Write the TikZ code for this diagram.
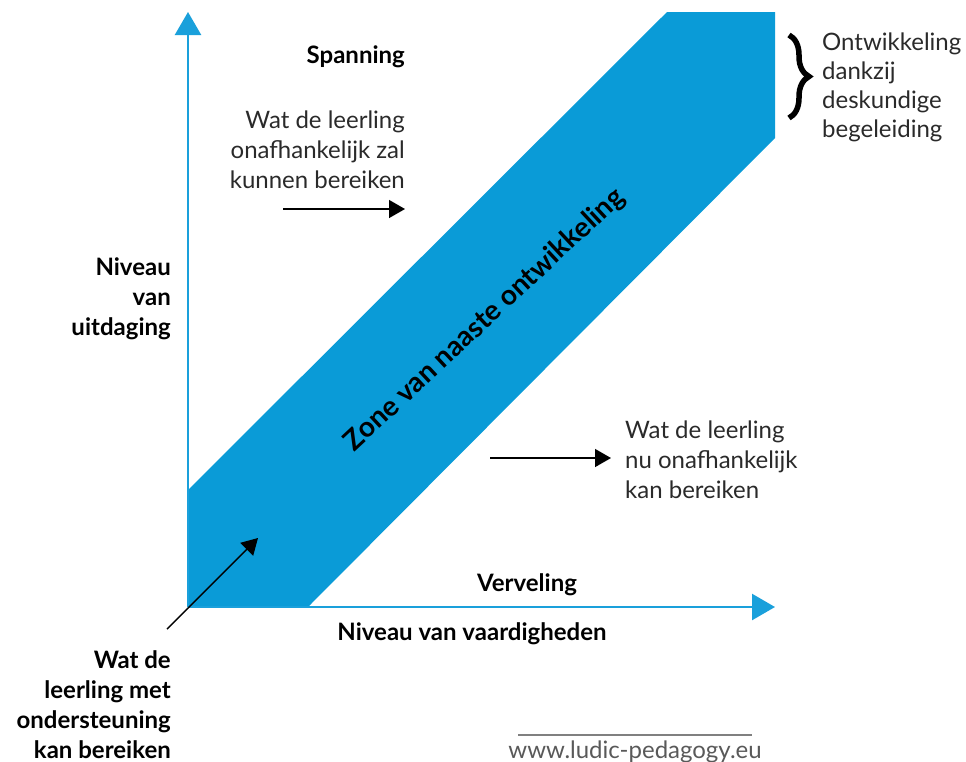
\documentclass[tikz,border=0pt]{standalone}
\usepackage{fontspec}
\setmainfont{Lato}
\usetikzlibrary{arrows.meta,decorations.pathreplacing}
\definecolor{zoneblue}{HTML}{0A9BD7}
\definecolor{axisblue}{HTML}{1AA0DB}
\definecolor{txtgray}{HTML}{2A2A2A}
\tikzset{
	axis/.style={draw=axisblue, line width=2.5pt, -{Triangle[length=23pt,width=26pt]}},
	pointer/.style={draw=black, line width=1.4pt, -{Triangle[length=16pt,width=18pt]}},
	boldlbl/.style={font=\fontsize{24}{30}\selectfont\bfseries, text=black, inner sep=0pt},
	thinlbl/.style={font=\fontsize{24}{30}\selectfont, text=txtgray, inner sep=0pt},
}
\begin{document}
\begin{tikzpicture}[x=1pt,y=-1pt]
			\useasboundingbox (0,0) rectangle (966,761);
			% zone band
			\fill[zoneblue](188,607) -- (188,490) -- (667,12) -- (775,12) -- (775,138) -- (308,607) -- cycle;
			\node[boldlbl, font=\fontsize{28}{30}\selectfont\bfseries, rotate=43] (zone) at(485,320){Zone van naaste ontwikkeling};

			% axes
			\coordinate (origin) at(188,607);
			\coordinate (ytop) at(188,12);
			\coordinate (xend) at(775,607);
			\draw[axis](origin) to (ytop);
			\draw[axis](origin) to (xend);
				\node[boldlbl, align=right, anchor=north east] (yname) at(171,257){Niveau\\van\\uitdaging};
				\node[boldlbl] (xname) at(472,634){Niveau van vaardigheden};

			% upper side
			\node[boldlbl, anchor=east] (spanning) at(405,57){Spanning};
			\node[thinlbl, align=right, anchor=north east] (future) at(405,111){Wat de leerling\\onafhankelijk zal\\kunnen bereiken};
				\coordinate (fstart) at(283,209);
				\coordinate (fend) at(405,209);
				\draw[pointer](fstart) to (fend);

			% lower side
			\node[boldlbl] (verveling) at(527,585){Verveling};
			\node[thinlbl, align=left, anchor=north west] (now) at(625,421){Wat de leerling\\nu onafhankelijk\\kan bereiken};
				\coordinate (nstart) at(490,458);
				\coordinate (nend) at(611,458);
				\draw[pointer](nstart) to (nend);

			% with support
			\node[boldlbl, align=right, anchor=north east] (support) at(171,650){Wat de\\leerling met\\ondersteuning\\kan bereiken};
				\coordinate (sstart) at(167,629);
				\coordinate (send) at(258,538);
				\draw[pointer](sstart) to (send);

			% brace
			\coordinate (btop) at(789,35);
			\coordinate (bbot) at(789,118);
			\draw[line width=5.5pt, decorate, decoration={brace, amplitude=20pt}](btop) to (bbot);
			\node[thinlbl, font=\fontsize{24}{29}\selectfont, align=left, anchor=north west] (guidance) at(822,33){Ontwikkeling\\dankzij\\deskundige\\begeleiding};

			% source
			\coordinate (lstart) at(518,735);
			\coordinate (lend) at(752,735);
			\draw[gray, line width=1.5pt](lstart) to (lend);
			\node[thinlbl, text=gray!70!black, anchor=north] (source) at(635,741){www.ludic-pedagogy.eu};
\end{tikzpicture}
\end{document}
